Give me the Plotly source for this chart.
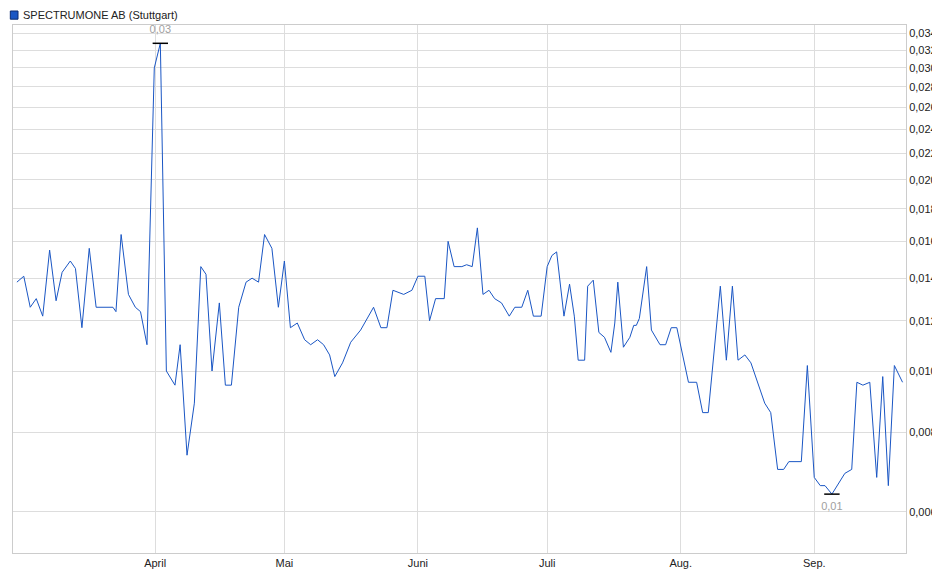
import pandas as pd
import plotly.graph_objects as go

# days relative to 2025-04-01
days = [-32.1,-30.5,-29.0,-27.6,-26.1,-24.5,-23.0,-21.6,-19.7,-18.5,-17.0,-15.3,-13.7,-9.8,-9.1,-7.9,-6.2,-4.6,-3.4,-1.9,
        -0.2,1.2,2.6,4.6,5.8,7.4,9.1,10.6,11.8,13.2,14.9,16.3,17.7,19.4,21.1,22.5,24.0,25.4,27.1,28.6,
        30,31.4,33.0,34.7,36.1,37.7,39.1,40.5,41.7,43.5,45.4,47.7,50.7,52.4,53.8,55.2,57.7,59.6,
        61,62.6,63.7,65.1,67.1,68.0,69.4,71.2,72.3,73.6,74.8,76.1,77.5,78.8,80.4,82.2,83.5,85.1,86.5,87.8,89.6,
        91,92.1,93.2,94.9,96.2,97.3,98.2,99.7,100.4,101.7,103.0,104.3,105.8,106.7,107.4,108.7,110.2,111.1,111.7,112.4,
        114.1,115.2,117.2,118.5,119.8,121.1,123.8,125.7,127.1,128.4,129.8,131.2,132.6,134.0,135.3,136.9,138.3,
        141.5,142.9,144.5,145.9,147.1,150.0,151.4,153,154.4,155.5,157.1,160.1,161.7,162.9,164.3,165.9,167.5,
        168.9,170.2,171.6,173.5]
prices = [0.0138,0.0141,0.0126,0.0130,0.0122,0.0155,0.0129,0.0143,0.0149,0.0145,0.0117,0.0156,0.0126,0.0126,0.0124,0.0164,0.0132,0.0126,0.0124,0.0110,
          0.0300,0.0328,0.0100,0.0095,0.0110,0.00737,0.0089,0.0146,0.0142,0.0100,0.0128,0.0095,0.0095,0.0126,0.0138,0.0140,0.0138,0.0164,0.0156,0.0126,
          0.0149,0.0117,0.0119,0.0112,0.0110,0.0112,0.0110,0.0106,0.0098,0.0103,0.0111,0.0116,0.0126,0.0117,0.0117,0.0134,0.0132,0.0134,
          0.0141,0.0141,0.0120,0.0130,0.0130,0.0160,0.0146,0.0146,0.0147,0.0146,0.0168,0.0132,0.0134,0.0130,0.0128,0.0122,0.0126,0.0126,0.0134,0.0122,0.0122,
          0.0146,0.0152,0.0154,0.0122,0.0137,0.0122,0.0104,0.0104,0.0136,0.0139,0.0115,0.0113,0.0107,0.0119,0.0138,0.0109,0.0113,0.0118,0.0118,0.0121,
          0.0146,0.0116,0.0110,0.0110,0.0117,0.0117,0.0096,0.0096,0.0086,0.0086,0.0109,0.0136,0.0104,0.0136,0.0104,0.0106,0.0103,
          0.0089,0.0086,0.0070,0.0070,0.0072,0.0072,0.0102,0.0068,0.0066,0.0066,0.0064,0.0069,0.0070,0.0096,0.0095,0.0096,0.0068,
          0.0098,0.0066,0.0102,0.0096]
y_ticks = [0.006,0.008,0.010,0.012,0.014,0.016,0.018,0.020,0.022,0.024,0.026,0.028,0.030,0.032,0.034]
y_tick_labels = [f"{v:.3f}".replace(".", ",") for v in y_ticks]
month_ticks = ["2025-04-01","2025-05-01","2025-06-01","2025-07-01","2025-08-01","2025-09-01"]
month_labels = ["April","Mai","Juni","Juli","Aug.","Sep."]
series_name = "SPECTRUMONE AB (Stuttgart)"

base = pd.Timestamp("2025-04-01")
dates = [base + pd.Timedelta(days=d) for d in days]

fig = go.Figure()
fig.add_trace(go.Scatter(x=dates, y=prices, mode="lines", line=dict(color="#1a56c4", width=1),
                         name=series_name, showlegend=False, hoverinfo="skip"))

imax = prices.index(max(prices)); imin = prices.index(min(prices))
for i, txt, pos in [(imax, "0,03", "top"), (imin, "0,01", "bottom")]:
    fig.add_trace(go.Scatter(x=[dates[i]], y=[prices[i]], mode="markers+text",
                             marker=dict(symbol="line-ew", size=11, line=dict(color="black", width=1.5)),
                             text=[txt], textposition=f"{pos} center",
                             textfont=dict(color="#a0a0a0", size=11), showlegend=False, hoverinfo="skip"))

fig.update_layout(
    width=940, height=579, margin=dict(l=5, r=42, t=17, b=34),
    paper_bgcolor="white", plot_bgcolor="white",
    font=dict(family="Liberation Sans, Arial", size=11, color="#222"),
    xaxis=dict(range=[base + pd.Timedelta(days=-33), base + pd.Timedelta(days=174.3)], automargin=False,
               tickvals=month_ticks, ticktext=month_labels, showgrid=True, gridcolor="#dddddd",
               showline=True, linecolor="#cccccc", mirror=True, ticks="", zeroline=False),
    yaxis=dict(type="log", range=[-2.2865, -1.4553], side="right", tickvals=y_ticks, ticktext=y_tick_labels,
               automargin=False, showgrid=True, gridcolor="#dddddd", showline=True, linecolor="#cccccc",
               mirror=True, ticks="", zeroline=False),
)
fig.add_shape(type="rect", xref="paper", yref="paper", x0=-0.003, x1=0.0056, y0=1.011, y1=1.0265,
              fillcolor="#1a56c4", line=dict(color="#0a2a70", width=1))
fig.add_annotation(xref="paper", yref="paper", x=0.009, y=1.019, text=series_name, showarrow=False,
                   xanchor="left", yanchor="middle", font=dict(size=11, color="#222"))
fig.write_html("out.html")
